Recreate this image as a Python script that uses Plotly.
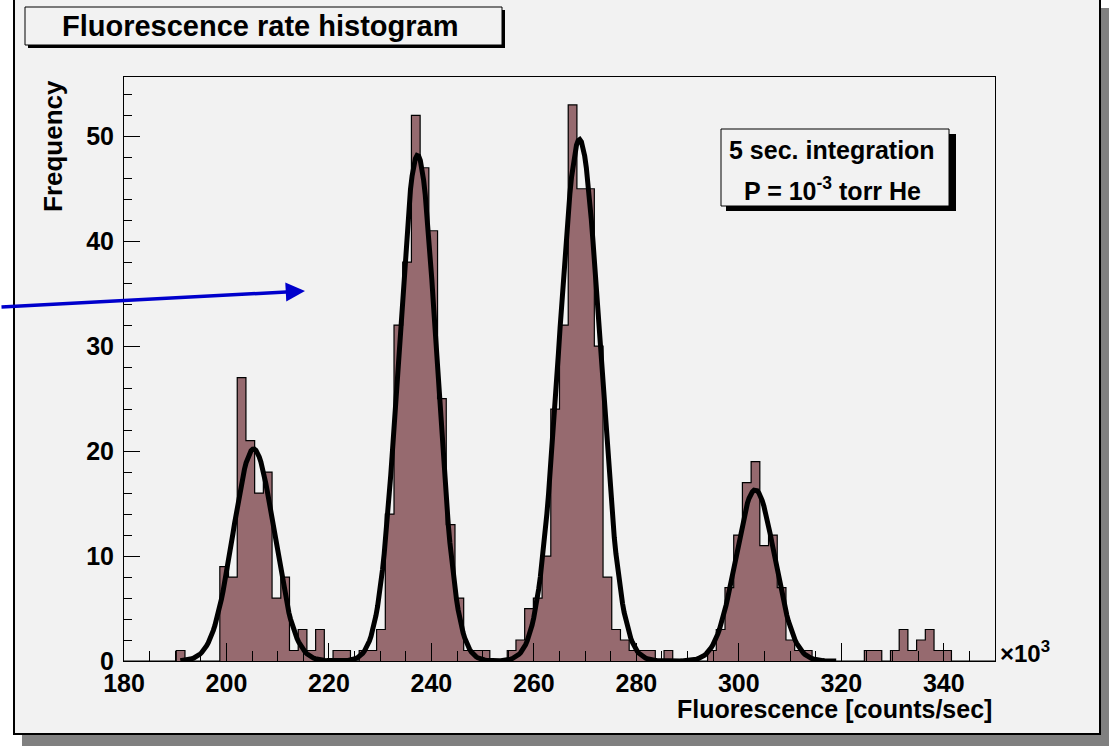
import numpy as np
import plotly.graph_objects as go

# ---------------- data ----------------
x_min, x_max, n_bins = 180.0, 350.0, 100          # histogram binning (x 10^3 counts/sec)
counts = [
    0, 0, 0, 0, 0, 0, 1, 0, 0, 0,          # 180 - 197
    0, 9, 8, 27, 21, 16, 18, 6, 8, 1,      # 198.7 - 214
    3, 1, 3, 0, 1, 1, 0, 1, 1, 3,          # 214 - 231
    14, 32, 38, 52, 47, 41, 25, 13, 6, 1,  # 231 - 248
    1, 1, 0, 0, 1, 2, 5, 6, 10, 24,        # 248 - 265
    32, 53, 45, 45, 30, 8, 3, 2, 1, 1,     # 265 - 282
    1, 0, 1, 0, 0, 0, 0, 1, 3, 7,          # 282 - 299
    12, 17, 19, 11, 12, 7, 2, 1, 1, 0,     # 299 - 316
    0, 0, 0, 0, 0, 1, 1, 0, 1, 3,          # 316 - 333
    1, 2, 3, 1, 1, 0, 0, 0, 0, 0,          # 333 - 350
]
# four-gaussian fit: amplitude, mean, sigma
fit_amp = [20.2, 48.2, 49.7, 16.3]
fit_mean = [205.3, 237.3, 268.9, 303.2]
fit_sigma = [4.0, 3.7, 4.0, 3.8]
fit_range = [191.0, 319.0]

x_ticks = [180, 200, 220, 240, 260, 280, 300, 320, 340]
y_ticks = [0, 10, 20, 30, 40, 50]

title_text = "Fluorescence rate histogram"
x_title = "Fluorescence [counts/sec]"
y_title = "Frequency"
note_lines = ["5 sec. integration", "P = 10<sup>-3</sup> torr He"]

# ---------------- layout geometry ----------------
W, H = 1109, 746
L, R, T, B = 124, 995, 77, 661
BG = "#f2f2f2"
FILL = "#966a6f"
FONT = "Liberation Sans"


def px(xp):
    return (xp - L) / (R - L)


def py(yp):
    return (B - yp) / (B - T)


bw = (x_max - x_min) / n_bins
edges = [x_min + i * bw for i in range(n_bins + 1)]
centers = [x_min + (i + 0.5) * bw for i in range(n_bins)]

fig = go.Figure()

fig.add_trace(go.Bar(x=centers, y=counts, width=bw,
                     marker=dict(color=FILL, line=dict(width=0)),
                     hoverinfo="skip", showlegend=False))

step_x = [x_min] + edges
step_y = [0] + counts + [counts[-1]]
fig.add_trace(go.Scatter(x=step_x, y=step_y, mode="lines",
                         line=dict(color="black", width=1.2, shape="hv"),
                         hoverinfo="skip", showlegend=False))

xf = np.linspace(fit_range[0], fit_range[1], 400)
yf = np.zeros_like(xf)
for a, m, s in zip(fit_amp, fit_mean, fit_sigma):
    yf += a * np.exp(-0.5 * ((xf - m) / s) ** 2)
fig.add_trace(go.Scatter(x=xf, y=yf, mode="lines",
                         line=dict(color="black", width=5),
                         hoverinfo="skip", showlegend=False))

ymax = 1.05 * max(counts)

fig.update_layout(
    width=W, height=H,
    margin=dict(l=L, r=W - R, t=T, b=H - B, pad=0),
    paper_bgcolor="white", plot_bgcolor=BG,
    bargap=0, showlegend=False,
    font=dict(family=FONT, color="black"),
    xaxis=dict(range=[x_min, x_max], tickvals=x_ticks, ticks="inside",
               ticklen=18, tickwidth=1, tickcolor="black",
               showline=True, linecolor="black", linewidth=1, mirror=True,
               showgrid=False, zeroline=False,
               tickfont=dict(family=FONT, size=25, weight="bold"),
               ticklabelstandoff=0,
               minor=dict(dtick=5, ticks="inside", ticklen=10, tickcolor="black", showgrid=False)),
    yaxis=dict(range=[0, ymax], tickvals=y_ticks, ticks="inside",
               ticklen=16, tickwidth=1, tickcolor="black",
               showline=True, linecolor="black", linewidth=1, mirror=True,
               showgrid=False, zeroline=False,
               tickfont=dict(family=FONT, size=25, weight="bold"),
               ticklabelstandoff=4,
               minor=dict(dtick=2, ticks="inside", ticklen=8, tickcolor="black", showgrid=False)),
)

shapes = []
# canvas shadow + canvas
shapes.append(dict(type="rect", xref="paper", yref="paper", layer="below",
                   x0=px(22), x1=px(1109), y0=py(746), y1=py(8),
                   fillcolor="#808080", line=dict(width=0)))
shapes.append(dict(type="rect", xref="paper", yref="paper", layer="below",
                   x0=px(14), x1=px(1100), y0=py(734), y1=py(-5),
                   fillcolor=BG, line=dict(color="black", width=2)))
# title box
shapes.append(dict(type="rect", xref="paper", yref="paper",
                   x0=px(28), x1=px(505), y0=py(48), y1=py(10),
                   fillcolor="black", line=dict(width=0)))
shapes.append(dict(type="rect", xref="paper", yref="paper",
                   x0=px(25), x1=px(502), y0=py(45), y1=py(7),
                   fillcolor=BG, line=dict(color="black", width=1)))
# note box
shapes.append(dict(type="rect", xref="paper", yref="paper",
                   x0=px(726), x1=px(956), y0=py(211), y1=py(134),
                   fillcolor="black", line=dict(width=0)))
shapes.append(dict(type="rect", xref="paper", yref="paper",
                   x0=px(721), x1=px(949), y0=py(206), y1=py(129),
                   fillcolor=BG, line=dict(color="black", width=1)))
fig.update_layout(shapes=shapes)

ann = []
ann.append(dict(text=title_text, xref="paper", yref="paper", x=px(260), y=py(26),
                xanchor="center", yanchor="middle", showarrow=False,
                font=dict(family=FONT, size=29, weight="bold")))
ann.append(dict(text=note_lines[0], xref="paper", yref="paper", x=px(832), y=py(150),
                xanchor="center", yanchor="middle", showarrow=False,
                font=dict(family=FONT, size=25, weight="bold")))
ann.append(dict(text=note_lines[1], xref="paper", yref="paper", x=px(832), y=py(189),
                xanchor="center", yanchor="middle", showarrow=False,
                font=dict(family=FONT, size=25, weight="bold")))
ann.append(dict(text=x_title, xref="paper", yref="paper", x=px(994), y=py(725),
                xanchor="right", yanchor="bottom", showarrow=False,
                font=dict(family=FONT, size=25, weight="bold")))
ann.append(dict(text=y_title, xref="paper", yref="paper", x=px(53), y=py(78),
                xanchor="center", yanchor="top", textangle=-90, showarrow=False,
                font=dict(family=FONT, size=26, weight="bold")))
ann.append(dict(text="\u00d710<sup>3</sup>", xref="paper", yref="paper", x=px(998), y=py(652),
                xanchor="left", yanchor="middle", showarrow=False,
                font=dict(family=FONT, size=24, weight="bold")))
# blue arrow
ann.append(dict(text="", xref="paper", yref="paper", x=px(305), y=py(291),
                ax=-305, ay=16, showarrow=True, arrowhead=2, arrowsize=1.1,
                arrowwidth=3.5, arrowcolor="#0000cc"))
fig.update_layout(annotations=ann)

fig.write_html("out.html", config={"displayModeBar": False},
               post_script="document.body.style.margin='0px';")
